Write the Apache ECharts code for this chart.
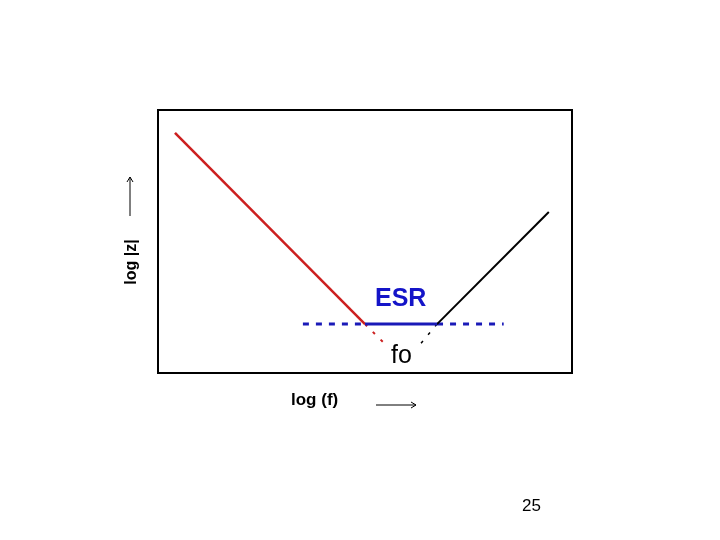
<!DOCTYPE html>
<html>
<head>
<meta charset="utf-8">
<script src="https://cdn.jsdelivr.net/npm/echarts@6/dist/echarts.min.js"></script>
<style>
  html, body { margin: 0; padding: 0; background: #fff; }
  #chart { width: 720px; height: 540px; }
</style>
</head>
<body>
<div id="chart"></div>
<script>
// log|Z| vs log f, arbitrary units (0..100 on both axes)
const capacitiveLine = [[4.1, 91.3], [50.0, 18.6]];
const capacitiveExt = [[50.0, 18.6], [55.3, 10.3]];
const inductiveLine = [[67.4, 18.6], [94.4, 61.2]];
const inductiveExt = [[67.4, 18.6], [62.8, 9.9]];
const esrSolid = [[50.0, 18.6], [67.4, 18.6]];
const esrDottedLeft = [[35.0, 18.6], [50.0, 18.6]];
const esrDottedRight = [[67.4, 18.6], [83.5, 18.6]];

const chart = echarts.init(document.getElementById('chart'));

const hiddenAxis = {
    type: 'value',
    axisLine: { show: false },
    axisTick: { show: false },
    axisLabel: { show: false },
    splitLine: { show: false }
};

function seg(data, color, width, type) {
    return {
        type: 'line',
        data: data,
        symbol: 'none',
        silent: true,
        lineStyle: { color: color, width: width, type: type }
    };
}

chart.setOption({
    animation: false,
    grid: {
        left: 158, top: 110, width: 414, height: 263,
        show: true, borderColor: '#000', borderWidth: 2, backgroundColor: 'transparent'
    },
    xAxis: Object.assign({ min: 0, max: 100 }, hiddenAxis),
    yAxis: Object.assign({ min: 0, max: 100 }, hiddenAxis),
    series: [
        seg(esrDottedLeft, '#1a1ab8', 3, [6, 7]),
        seg(esrDottedRight, '#1a1ab8', 3, [6, 7]),
        seg(capacitiveExt, '#cc2020', 2, [3, 8]),
        seg(inductiveExt, '#000', 1.5, [3, 8]),
        seg(capacitiveLine, '#cc1f1f', 2.5, 'solid'),
        seg(inductiveLine, '#000', 2, 'solid'),
        seg(esrSolid, '#1a1ab8', 3, 'solid')
    ],
    graphic: [
        { type: 'text', left: 375, top: 287,
          style: { text: 'ESR', fill: '#1414c8', font: 'bold 25px "Liberation Sans", Arial, sans-serif' } },
        { type: 'text', left: 391, top: 344,
          style: { text: 'fo', fill: '#000', font: '25px "Liberation Sans", Arial, sans-serif' } },
        { type: 'text', left: 291, top: 392,
          style: { text: 'log (f)', fill: '#000', font: 'bold 17px "Liberation Sans", Arial, sans-serif' } },
        { type: 'line', shape: { x1: 376, y1: 405, x2: 416, y2: 405 }, style: { stroke: '#000', lineWidth: 1 } },
        { type: 'polyline', shape: { points: [[411, 402], [416, 405], [411, 408]] }, style: { stroke: '#000', lineWidth: 1, fill: null } },
        { type: 'text', x: 132, y: 262, rotation: Math.PI / 2,
          style: { text: 'log |z|', fill: '#000', font: 'bold 16px "Liberation Sans", Arial, sans-serif', align: 'center', verticalAlign: 'middle' } },
        { type: 'line', shape: { x1: 130, y1: 216, x2: 130, y2: 177 }, style: { stroke: '#000', lineWidth: 1 } },
        { type: 'polyline', shape: { points: [[127, 182], [130, 177], [133, 182]] }, style: { stroke: '#000', lineWidth: 1, fill: null } },
        { type: 'text', left: 522, top: 498,
          style: { text: '25', fill: '#000', font: '17px "Liberation Sans", Arial, sans-serif' } }
    ]
});
</script>
</body>
</html>
